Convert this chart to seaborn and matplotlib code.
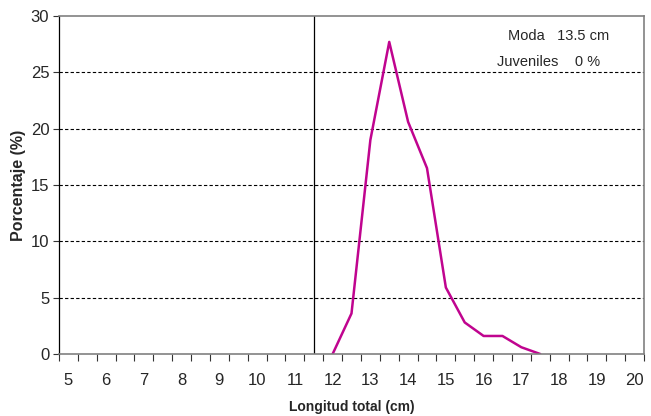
import numpy as np
import pandas as pd
import matplotlib
matplotlib.use("Agg")
import matplotlib.pyplot as plt
import seaborn as sns
from matplotlib.ticker import FixedLocator

# Data
longitud = [12.0, 12.5, 13.0, 13.5, 14.0, 14.5, 15.0, 15.5, 16.0, 16.5, 17.0, 17.5]
porcentaje = [0.0, 3.6, 19.0, 27.7, 20.6, 16.5, 5.9, 2.8, 1.6, 1.6, 0.6, 0.0]
x_ticks = list(range(5, 21))
y_ticks = [0, 5, 10, 15, 20, 25, 30]
juvenile_limit = 11.5
moda_text = "Moda   13.5 cm"
juv_text = "Juveniles    0 %"

sns.set_theme(style="white")
plt.rcParams['font.family'] = ['Liberation Sans', 'DejaVu Sans']

df = pd.DataFrame({"x": longitud, "y": porcentaje})

fig = plt.figure(figsize=(6.51, 4.16), dpi=100)
ax = fig.add_axes([59/651, 62/416, 585/651, 338/416])

sns.lineplot(data=df, x="x", y="y", ax=ax, color="#C0048F", linewidth=1.8, sort=False)

ax.set_xlim(4.75, 20.25)
ax.set_ylim(0, 30)

for yv in y_ticks[1:-1]:
    ax.axhline(yv, color="black", linestyle=(0, (3, 2)), linewidth=0.8, zorder=0)

ax.axvline(juvenile_limit, color="black", linewidth=0.9)

ax.xaxis.set_major_locator(FixedLocator(x_ticks))
ax.xaxis.set_minor_locator(FixedLocator(np.arange(4.75, 20.3, 0.5)))
ax.set_xticklabels([str(v) for v in x_ticks])
ax.yaxis.set_major_locator(FixedLocator(y_ticks))
ax.set_yticklabels([str(v) for v in y_ticks])

ax.tick_params(axis='x', which='major', length=0, pad=14, labelsize=12)
ax.tick_params(axis='x', which='minor', length=5, width=0.8, color='#333333', direction='out', bottom=True)
ax.tick_params(axis='y', which='major', length=4, width=0.8, color='#333333', direction='out', left=True, labelsize=12, pad=3)

for side in ['top', 'right', 'bottom']:
    ax.spines[side].set_color('#808080')
    ax.spines[side].set_linewidth(1.2)
ax.spines['left'].set_color('black')
ax.spines['left'].set_linewidth(0.9)

ax.set_xlabel("Longitud total (cm)", fontsize=10, fontweight='bold', labelpad=8)
ax.set_ylabel("Porcentaje (%)", fontsize=11.5, fontweight='bold', labelpad=3)

ax.text(0.94, 0.94, moda_text, transform=ax.transAxes, ha='right', va='center', fontsize=10.5)
ax.text(0.925, 0.865, juv_text, transform=ax.transAxes, ha='right', va='center', fontsize=10.5)

fig.savefig("out.png", dpi=100)
